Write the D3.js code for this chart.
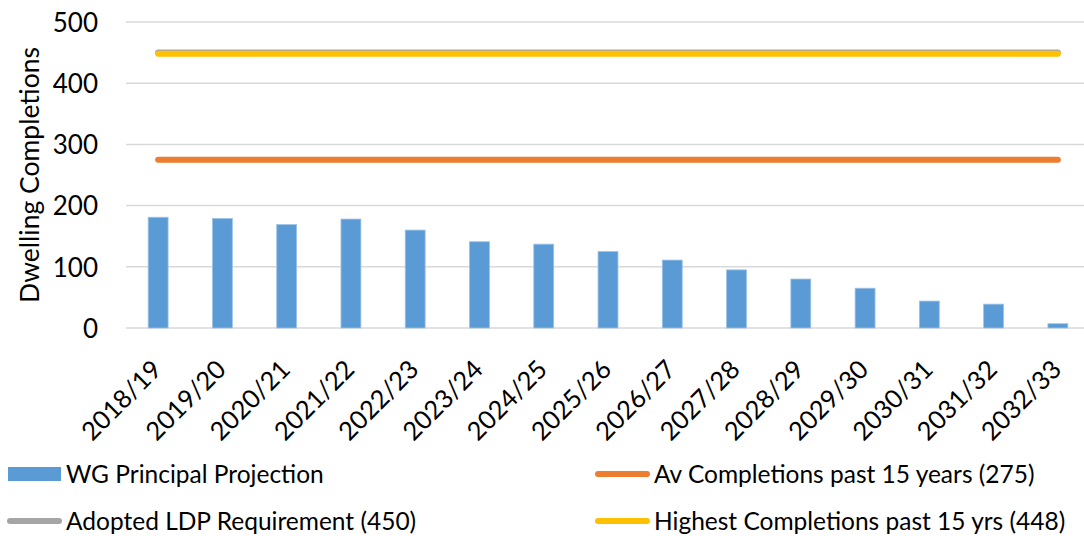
<!DOCTYPE html>
<html><head><meta charset="utf-8">
<script src="https://cdn.jsdelivr.net/npm/d3@7"></script>
<style>
html,body{margin:0;padding:0;background:#fff;}
svg{display:block;font-family:Lato, "Open Sans", sans-serif;}
</style></head>
<body><svg id="c" width="1084" height="536"></svg>
<script>
const categories = ["2018/19","2019/20","2020/21","2021/22","2022/23","2023/24","2024/25","2025/26","2026/27","2027/28","2028/29","2029/30","2030/31","2031/32","2032/33"];
const projection = [181,179,169,178,160,141,137,125,111,95,80,65,44,39,7];
const avCompletions = 275;
const ldpRequirement = 450;
const highestCompletions = 448;
const yTicks = [0,100,200,300,400,500];
const seriesNames = ["WG Principal Projection","Av Completions past 15 years (275)","Adopted LDP Requirement (450)","Highest Completions past 15 yrs (448)"];

const svg = d3.select("#c");
const x = d3.scaleBand().domain(categories).range([126,1090]).paddingInner(0.69).paddingOuter(0.345);
const y = d3.scaleLinear().domain([0,500]).range([328,22]);

// gridlines
svg.append("g").selectAll("line").data(yTicks).join("line")
  .attr("x1",126).attr("x2",1090)
  .attr("y1",d=>y(d)).attr("y2",d=>y(d))
  .attr("stroke","#d9d9d9").attr("stroke-width",1.5);

// y axis labels
const yAxis = svg.append("g").attr("transform","translate(98,0)")
  .call(d3.axisLeft(y).tickValues(yTicks).tickSize(0).tickPadding(0));
yAxis.select(".domain").remove();
yAxis.selectAll("text").attr("font-family","Lato, sans-serif").attr("font-size",26).attr("fill","#000").attr("dy","0.36em");

// y title
svg.append("text").attr("transform","translate(39,175) rotate(-90)")
  .attr("text-anchor","middle").attr("font-size",26.5).attr("fill","#000")
  .text("Dwelling Completions");

// bars
svg.append("g").selectAll("rect").data(projection).join("rect")
  .attr("x",(d,i)=>x(categories[i]))
  .attr("width",x.bandwidth())
  .attr("y",d=>y(d))
  .attr("height",d=>y(0)-y(d))
  .attr("fill","#5B9BD5").attr("stroke","#9DC3E6").attr("stroke-width",0.8);

// horizontal lines
const cx = c => x(c)+x.bandwidth()/2;
const lineGen = d3.line().x(d=>cx(d.c)).y(d=>y(d.v));
const lines = [
  {v:avCompletions, color:"#ED7D31"},
  {v:ldpRequirement, color:"#A5A5A5"},
  {v:highestCompletions, color:"#FFC000"}
];
svg.append("g").selectAll("path").data(lines).join("path")
  .attr("d",L=>lineGen(categories.map(c=>({c,v:L.v}))))
  .attr("fill","none").attr("stroke",L=>L.color).attr("stroke-width",6).attr("stroke-linecap","round");

// x labels
svg.append("g").selectAll("text").data(categories).join("text")
  .attr("transform",c=>`translate(${cx(c)+5},371) rotate(-45)`)
  .attr("text-anchor","end").attr("font-size",25.5).attr("fill","#000")
  .text(c=>c);

// legend
const legendItems = [
  {name:seriesNames[0], type:"rect", color:"#5B9BD5", lx:8, ly:474},
  {name:seriesNames[1], type:"line", color:"#ED7D31", lx:596, ly:474},
  {name:seriesNames[2], type:"line", color:"#A5A5A5", lx:8, ly:521},
  {name:seriesNames[3], type:"line", color:"#FFC000", lx:596, ly:521}
];
const lg = svg.append("g").selectAll("g").data(legendItems).join("g")
  .attr("transform",d=>`translate(${d.lx},${d.ly})`);
lg.filter(d=>d.type==="rect").append("rect").attr("x",0).attr("y",-7).attr("width",53).attr("height",14).attr("fill",d=>d.color);
lg.filter(d=>d.type==="line").append("line").attr("x1",2).attr("x2",51).attr("y1",0).attr("y2",0)
  .attr("stroke",d=>d.color).attr("stroke-width",6).attr("stroke-linecap","round");
lg.append("text").attr("x",58).attr("y",0).attr("dy","0.36em").attr("font-size",24.5).attr("fill","#000").text(d=>d.name);
</script></body></html>
